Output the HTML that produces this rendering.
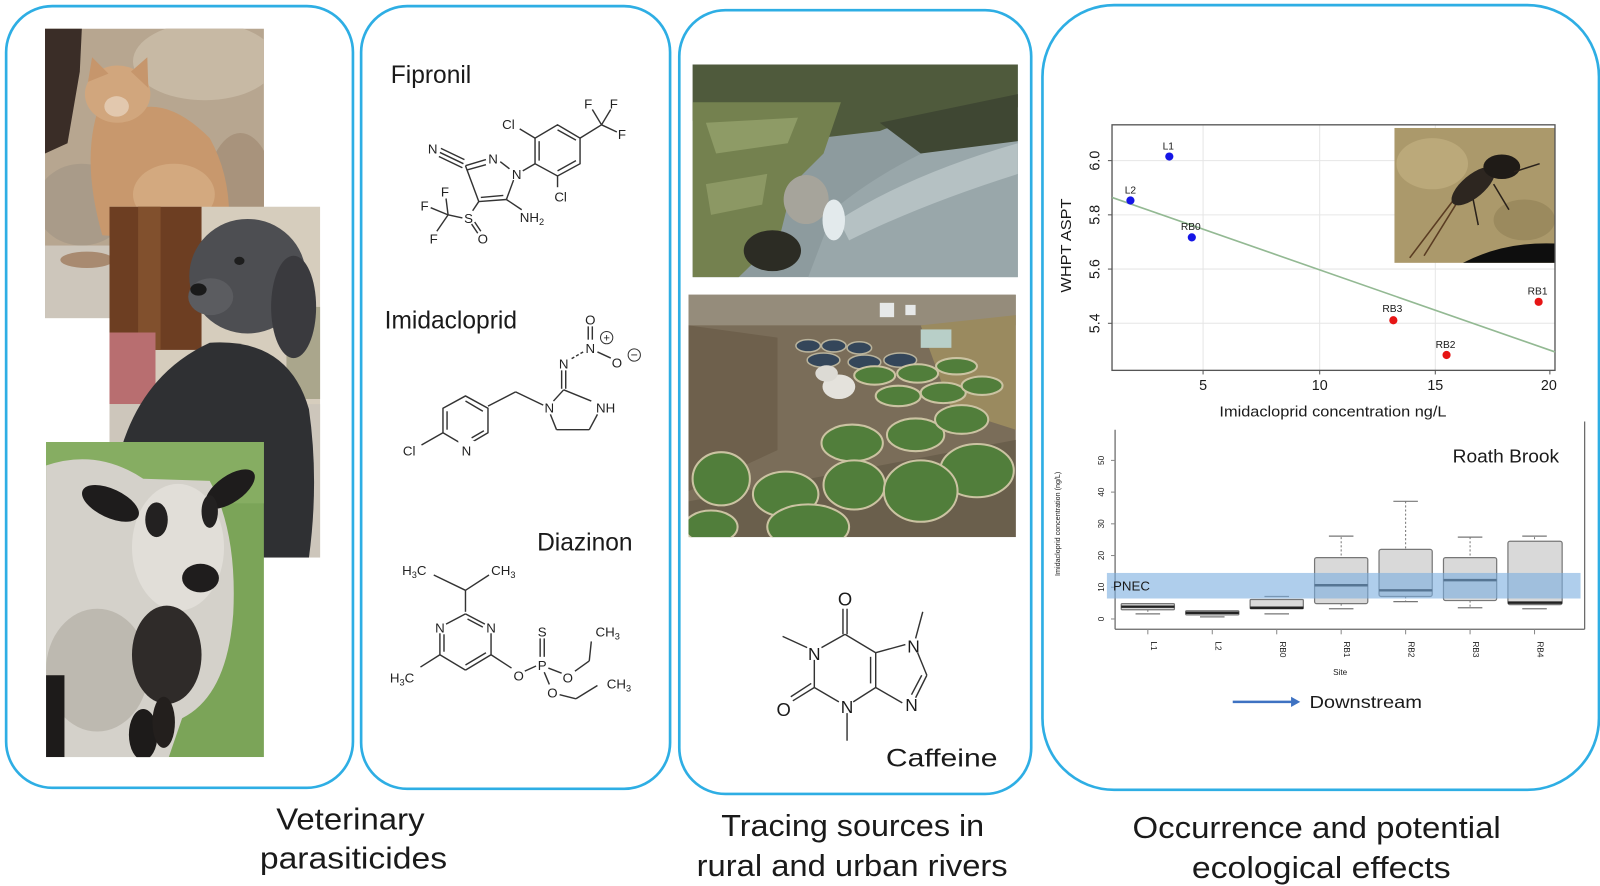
<!DOCTYPE html>
<html><head><meta charset="utf-8"><style>
html,body{margin:0;padding:0;background:#fff;}
svg{display:block}
text{font-family:"Liberation Sans",Arial,sans-serif;fill:#1a1a1a;}
.ch{font-size:13px;fill:#222;text-anchor:middle;}
.bd{stroke:#333;stroke-width:1.4;fill:none;}
</style></head><body>
<svg width="1600" height="886" viewBox="0 0 1564 866" preserveAspectRatio="none" xmlns="http://www.w3.org/2000/svg">
<defs>
<clipPath id="cCat"><rect x="44" y="28" width="214" height="283"/></clipPath>
<clipPath id="cDog"><rect x="107" y="202" width="206" height="343"/></clipPath>
<clipPath id="cSheep"><rect x="45" y="432" width="213" height="308"/></clipPath>
<clipPath id="cRiv"><rect x="677" y="63" width="318" height="208"/></clipPath>
<clipPath id="cAer"><rect x="673" y="288" width="320" height="237"/></clipPath>
<clipPath id="cIns"><rect x="1363" y="125" width="157" height="132"/></clipPath>
</defs>
<rect width="1564" height="866" fill="#fff"/>

<!-- Panels -->
<g fill="none" stroke="#2eaee4" stroke-width="2.6">
<rect x="6" y="6" width="339" height="764" rx="45"/>
<rect x="353" y="6" width="302" height="765" rx="45"/>
<rect x="664" y="10" width="344" height="766" rx="45"/>
<rect x="1019" y="5" width="544" height="767" rx="70"/>
</g>

<!-- CAT -->
<g clip-path="url(#cCat)">
<rect x="44" y="28" width="214" height="283" fill="#b7a690"/>
<ellipse cx="200" cy="60" rx="70" ry="38" fill="#c7b9a4"/>
<ellipse cx="235" cy="200" rx="35" ry="70" fill="#a8937c"/>
<path d="M44 28 L80 28 L78 70 L66 140 L44 150 Z" fill="#3a2d27"/>
<ellipse cx="80" cy="200" rx="45" ry="40" fill="#a99b89"/>
<rect x="44" y="240" width="70" height="75" fill="#cdc6bb"/>
<ellipse cx="85" cy="254" rx="26" ry="8" fill="#a88a70"/>
<path d="M95 110 Q80 160 100 230 L222 238 Q230 180 205 135 Q170 100 140 105 Z" fill="#c8986d"/>
<ellipse cx="115" cy="92" rx="32" ry="28" fill="#d1a67d"/>
<polygon points="86,80 90,56 106,72" fill="#c6966c"/>
<polygon points="128,70 144,56 145,86" fill="#c6966c"/>
<ellipse cx="114" cy="104" rx="12" ry="10" fill="#e2c8ae"/>
<ellipse cx="170" cy="190" rx="40" ry="30" fill="#d3a97f"/>
</g>

<!-- DOG -->
<g clip-path="url(#cDog)">
<rect x="107" y="202" width="206" height="343" fill="#d6cdbd"/>
<rect x="107" y="202" width="90" height="140" fill="#6d3e22"/>
<rect x="135" y="202" width="22" height="140" fill="#81502d"/>
<rect x="280" y="300" width="33" height="90" fill="#aaa68c"/>
<rect x="107" y="325" width="45" height="70" fill="#b86e70"/>
<rect x="107" y="395" width="206" height="150" fill="#cdc6bb"/>
<path d="M118 440 Q140 365 205 335 Q282 330 302 400 Q312 470 302 545 L118 545 Z" fill="#2f3033"/>
<ellipse cx="242" cy="270" rx="57" ry="56" fill="#4d4e52"/>
<ellipse cx="287" cy="300" rx="22" ry="50" fill="#3a3a3e"/>
<ellipse cx="206" cy="290" rx="22" ry="18" fill="#5b5c60"/>
<ellipse cx="194" cy="283" rx="8" ry="6" fill="#1a1a1a"/>
<ellipse cx="234" cy="255" rx="5" ry="4" fill="#1e1e1e"/>
</g>

<!-- SHEEP -->
<g clip-path="url(#cSheep)">
<rect x="45" y="432" width="213" height="308" fill="#7ba458"/>
<rect x="45" y="432" width="213" height="60" fill="#86ad62"/>
<path d="M45 455 Q95 438 140 468 L205 470 Q232 520 228 600 Q222 680 178 702 L165 740 L45 740 Z" fill="#d4d1ca"/>
<ellipse cx="95" cy="655" rx="50" ry="60" fill="#bdb9b0"/>
<ellipse cx="174" cy="535" rx="45" ry="62" fill="#e1ded8"/>
<ellipse cx="108" cy="492" rx="30" ry="14" transform="rotate(25 108 492)" fill="#1e1c1c"/>
<ellipse cx="225" cy="478" rx="28" ry="13" transform="rotate(-35 225 478)" fill="#1e1c1c"/>
<ellipse cx="153" cy="508" rx="11" ry="17" fill="#232121"/>
<ellipse cx="205" cy="500" rx="8" ry="16" fill="#232121"/>
<ellipse cx="196" cy="565" rx="18" ry="14" fill="#1f1d1d"/>
<ellipse cx="163" cy="640" rx="34" ry="48" fill="#2f2b29"/>
<rect x="45" y="660" width="18" height="80" fill="#1d1b1a"/>
<ellipse cx="140" cy="718" rx="14" ry="25" fill="#1d1b1a"/>
<ellipse cx="160" cy="706" rx="11" ry="25" fill="#231f1d"/>
</g>

<!-- Panel 2 chemistry -->
<text x="382" y="81" font-size="24">Fipronil</text>
<text x="376" y="321" font-size="24">Imidacloprid</text>
<text x="525" y="538" font-size="24">Diazinon</text>

<!-- Fipronil -->
<g class="bd">
<line x1="430" y1="149" x2="453" y2="160"/><line x1="431" y1="145" x2="454" y2="156"/><line x1="429" y1="153" x2="452" y2="164"/>
<line x1="455" y1="162" x2="475" y2="156"/><line x1="457" y1="166" x2="475" y2="161"/>
<line x1="489" y1="158" x2="498" y2="165"/>
<line x1="502" y1="176" x2="495" y2="195"/>
<line x1="495" y1="195" x2="468" y2="197"/><line x1="492" y1="191" x2="470" y2="193"/>
<line x1="468" y1="197" x2="455" y2="162"/>
<line x1="495" y1="195" x2="510" y2="205"/>
<line x1="468" y1="197" x2="462" y2="206"/>
<line x1="452" y1="213" x2="438" y2="210"/>
<line x1="438" y1="210" x2="436" y2="194"/><line x1="438" y1="210" x2="421" y2="203"/><line x1="438" y1="210" x2="427" y2="226"/>
<line x1="461" y1="219" x2="467" y2="228"/><line x1="464" y1="217" x2="470" y2="226"/>
<line x1="511" y1="167" x2="523" y2="160"/>
<polygon points="545,122 567,135 567,160 545,172 523,160 523,135"/>
<line x1="527" y1="138" x2="527" y2="157"/><line x1="545" y1="127" x2="563" y2="137"/><line x1="545" y1="167" x2="563" y2="157"/>
<line x1="523" y1="135" x2="508" y2="126"/>
<line x1="545" y1="172" x2="545" y2="183"/>
<line x1="567" y1="135" x2="588" y2="122"/>
<line x1="588" y1="122" x2="579" y2="107"/><line x1="588" y1="122" x2="597" y2="107"/><line x1="588" y1="122" x2="603" y2="129"/>
</g>
<text class="ch" x="423" y="150">N</text>
<text class="ch" x="482" y="160">N</text>
<text class="ch" x="505" y="175">N</text>
<text class="ch" x="497" y="126">Cl</text>
<text class="ch" x="575" y="106">F</text>
<text class="ch" x="600" y="106">F</text>
<text class="ch" x="608" y="136">F</text>
<text class="ch" x="548" y="197">Cl</text>
<text class="ch" x="435" y="192">F</text>
<text class="ch" x="415" y="206">F</text>
<text class="ch" x="424" y="238">F</text>
<text class="ch" x="458" y="218">S</text>
<text class="ch" x="472" y="238">O</text>
<text class="ch" x="520" y="217">NH<tspan font-size="9" dy="3">2</tspan></text>

<!-- Imidacloprid -->
<g class="bd">
<line x1="575" y1="319" x2="575" y2="332"/><line x1="579" y1="319" x2="579" y2="332"/>
<line x1="584" y1="344" x2="597" y2="350"/>
<line x1="570" y1="344" x2="558" y2="351" stroke-dasharray="3,2"/>
<line x1="549" y1="362" x2="549" y2="380"/><line x1="553" y1="362" x2="553" y2="380"/>
<line x1="551" y1="381" x2="541" y2="392"/>
<line x1="551" y1="381" x2="578" y2="392"/>
<line x1="538" y1="405" x2="544" y2="420"/>
<line x1="544" y1="420" x2="576" y2="420"/>
<line x1="576" y1="420" x2="584" y2="405"/>
<line x1="531" y1="396" x2="504" y2="383"/>
<line x1="504" y1="383" x2="477" y2="397"/>
<polygon points="455,387 477,399 477,423 460,433 450,433 433,423 433,399" stroke-linejoin="round"/>
<line x1="437" y1="402" x2="437" y2="420"/><line x1="455" y1="392" x2="472" y2="402"/><line x1="461" y1="428" x2="473" y2="421"/>
<line x1="433" y1="423" x2="412" y2="435"/>
</g>
<rect x="448" y="431" width="16" height="14" fill="#fff"/>
<text class="ch" x="577" y="317">O</text>
<text class="ch" x="577" y="345">N</text>
<circle cx="593" cy="330" r="6" fill="none" stroke="#333" stroke-width="1"/><text x="593" y="334" font-size="11" text-anchor="middle">+</text>
<text class="ch" x="603" y="359">O</text>
<circle cx="620" cy="347" r="6" fill="none" stroke="#333" stroke-width="1"/><text x="620" y="351" font-size="12" text-anchor="middle">−</text>
<text class="ch" x="551" y="360">N</text>
<text class="ch" x="537" y="403">N</text>
<text class="ch" x="592" y="403">NH</text>
<text class="ch" x="400" y="445">Cl</text>
<text class="ch" x="456" y="445">N</text>

<!-- Diazinon -->
<g class="bd">
<line x1="424" y1="562" x2="455" y2="577"/><line x1="455" y1="577" x2="478" y2="562"/>
<line x1="455" y1="577" x2="455" y2="598"/>
<line x1="455" y1="600" x2="474" y2="610"/><line x1="457" y1="605" x2="472" y2="613"/>
<line x1="436" y1="610" x2="455" y2="600"/>
<line x1="480" y1="619" x2="480" y2="640"/>
<line x1="480" y1="640" x2="455" y2="655"/><line x1="475" y1="638" x2="455" y2="650"/>
<line x1="455" y1="655" x2="430" y2="640"/>
<line x1="430" y1="640" x2="430" y2="619"/><line x1="434" y1="637" x2="434" y2="620"/>
<line x1="430" y1="640" x2="411" y2="652"/>
<line x1="480" y1="640" x2="500" y2="653"/>
<line x1="513" y1="656" x2="524" y2="651"/>
<line x1="528" y1="642" x2="528" y2="624"/><line x1="532" y1="642" x2="532" y2="624"/>
<line x1="536" y1="653" x2="549" y2="658"/>
<line x1="562" y1="656" x2="576" y2="646"/><line x1="576" y1="646" x2="578" y2="627"/>
<line x1="532" y1="657" x2="537" y2="669"/>
<line x1="547" y1="679" x2="563" y2="683"/><line x1="563" y1="683" x2="584" y2="670"/>
</g>
<text class="ch" x="405" y="562">H<tspan font-size="9" dy="3">3</tspan><tspan dy="-3">C</tspan></text>
<text class="ch" x="492" y="562">CH<tspan font-size="9" dy="3">3</tspan></text>
<text class="ch" x="430" y="618">N</text>
<text class="ch" x="480" y="618">N</text>
<text class="ch" x="393" y="667">H<tspan font-size="9" dy="3">3</tspan><tspan dy="-3">C</tspan></text>
<text class="ch" x="507" y="665">O</text>
<text class="ch" x="530" y="655">P</text>
<text class="ch" x="530" y="622">S</text>
<text class="ch" x="594" y="622">CH<tspan font-size="9" dy="3">3</tspan></text>
<text class="ch" x="555" y="667">O</text>
<text class="ch" x="540" y="682">O</text>
<text class="ch" x="605" y="673">CH<tspan font-size="9" dy="3">3</tspan></text>

<!-- RIVER PHOTO -->
<g clip-path="url(#cRiv)">
<rect x="677" y="63" width="318" height="208" fill="#8d9b9e"/>
<path d="M790 271 L815 205 Q880 150 995 112 L995 271 Z" fill="#99a7aa"/>
<path d="M820 215 Q890 170 995 140 L995 170 Q900 200 830 235 Z" fill="#b5c1c3"/>
<path d="M677 63 L995 63 L995 105 Q900 112 860 128 L800 135 L677 118 Z" fill="#4f5a3c"/>
<path d="M677 100 L822 100 L805 150 L775 180 L762 232 L722 271 L677 271 Z" fill="#74814f"/>
<path d="M690 120 L780 115 L770 140 L700 150 Z" fill="#8e9b66"/>
<path d="M690 180 L750 170 L745 200 L695 210 Z" fill="#8c9864"/>
<ellipse cx="755" cy="245" rx="28" ry="20" fill="#2c2c24"/>
<ellipse cx="788" cy="195" rx="22" ry="24" fill="#a6a49b"/>
<ellipse cx="815" cy="215" rx="11" ry="20" fill="#e3eaec"/>
<path d="M860 120 L995 92 L995 138 L900 150 Z" fill="#3f4733"/>
</g>

<!-- AERIAL PHOTO -->
<g clip-path="url(#cAer)">
<rect x="673" y="288" width="320" height="237" fill="#7a6d59"/>
<rect x="673" y="288" width="320" height="30" fill="#958c7b"/>
<polygon points="900,318 993,308 993,420 930,400" fill="#9a8a5f"/>
<path d="M673 318 L760 330 L760 440 L673 480 Z" fill="#6e604c"/>
<path d="M673 490 L780 470 L993 430 L993 525 L673 525 Z" fill="#6a5f4c"/>
<rect x="860" y="296" width="14" height="14" fill="#e6e8e8"/><rect x="885" y="298" width="10" height="10" fill="#e6e8e8"/>
<g fill="#34465a" stroke="#b9b39c" stroke-width="1.5">
<ellipse cx="790" cy="338" rx="12" ry="6"/><ellipse cx="815" cy="338" rx="12" ry="6"/><ellipse cx="840" cy="340" rx="12" ry="6"/>
<ellipse cx="805" cy="352" rx="16" ry="7"/><ellipse cx="845" cy="354" rx="16" ry="7"/><ellipse cx="880" cy="352" rx="16" ry="7"/>
</g>
<ellipse cx="820" cy="378" rx="16" ry="12" fill="#e4e2dc"/><ellipse cx="808" cy="365" rx="11" ry="8" fill="#dcdad4"/>
<rect x="900" y="322" width="30" height="18" fill="#b8cfc8"/>
<g fill="#517e3b" stroke="#cbc3a2" stroke-width="2">
<ellipse cx="855" cy="367" rx="20" ry="9"/><ellipse cx="897" cy="365" rx="20" ry="9"/><ellipse cx="935" cy="358" rx="20" ry="8"/>
<ellipse cx="878" cy="387" rx="22" ry="10"/><ellipse cx="922" cy="384" rx="22" ry="10"/><ellipse cx="960" cy="377" rx="20" ry="9"/>
<ellipse cx="833" cy="433" rx="30" ry="18"/><ellipse cx="895" cy="425" rx="28" ry="16"/><ellipse cx="955" cy="460" rx="36" ry="26"/>
<ellipse cx="705" cy="468" rx="28" ry="26"/><ellipse cx="768" cy="483" rx="32" ry="22"/><ellipse cx="835" cy="474" rx="30" ry="24"/>
<ellipse cx="900" cy="480" rx="36" ry="30"/><ellipse cx="790" cy="515" rx="40" ry="22"/><ellipse cx="695" cy="515" rx="26" ry="16"/>
<ellipse cx="940" cy="410" rx="26" ry="14"/>
</g>
</g>

<!-- CAFFEINE -->
<g class="bd">
<line x1="824" y1="595" x2="824" y2="620"/><line x1="828" y1="595" x2="828" y2="620"/>
<line x1="826" y1="620" x2="803" y2="633"/>
<line x1="789" y1="633" x2="765" y2="622"/>
<line x1="796" y1="645" x2="796" y2="672"/>
<line x1="796" y1="672" x2="820" y2="686"/>
<line x1="796" y1="672" x2="775" y2="685"/><line x1="793" y1="668" x2="773" y2="681"/>
<line x1="828" y1="697" x2="828" y2="724"/>
<line x1="834" y1="686" x2="856" y2="672"/>
<line x1="856" y1="672" x2="856" y2="638"/><line x1="851" y1="668" x2="851" y2="642"/>
<line x1="856" y1="638" x2="826" y2="620"/>
<line x1="856" y1="638" x2="885" y2="630"/>
<line x1="897" y1="638" x2="906" y2="660"/>
<line x1="906" y1="660" x2="895" y2="682"/><line x1="901" y1="660" x2="891" y2="679"/>
<line x1="882" y1="687" x2="856" y2="672"/>
<line x1="895" y1="624" x2="902" y2="598"/>
</g>
<text x="826" y="592" font-size="18" text-anchor="middle">O</text>
<text x="796" y="645" font-size="17" text-anchor="middle">N</text>
<text x="893" y="638" font-size="17" text-anchor="middle">N</text>
<text x="891" y="695" font-size="17" text-anchor="middle">N</text>
<text x="766" y="700" font-size="18" text-anchor="middle">O</text>
<text x="828" y="697" font-size="17" text-anchor="middle">N</text>
<text x="866" y="749" font-size="24" textLength="109" lengthAdjust="spacingAndGlyphs">Caffeine</text>

<!-- SCATTER PLOT -->
<g stroke="#e6e6e6" stroke-width="1">
<line x1="1087" y1="157" x2="1520" y2="157"/><line x1="1087" y1="210" x2="1520" y2="210"/>
<line x1="1087" y1="263" x2="1520" y2="263"/><line x1="1087" y1="316" x2="1520" y2="316"/>
<line x1="1176" y1="122" x2="1176" y2="362"/><line x1="1290" y1="122" x2="1290" y2="362"/><line x1="1403" y1="122" x2="1403" y2="362"/>
</g>
<g clip-path="url(#cIns)">
<rect x="1363" y="125" width="157" height="132" fill="#ab996b"/>
<ellipse cx="1400" cy="160" rx="35" ry="25" fill="#bba97a"/>
<ellipse cx="1490" cy="215" rx="30" ry="20" fill="#9b8a5e"/>
<path d="M1430 257 Q1470 236 1520 238 L1520 257 Z" fill="#0e0e0e"/>
<g stroke="#5a3c22" stroke-width="1.5"><line x1="1425" y1="190" x2="1378" y2="252"/><line x1="1428" y1="192" x2="1392" y2="250"/></g>
<ellipse cx="1440" cy="182" rx="26" ry="11" transform="rotate(-40 1440 182)" fill="#2d2620"/>
<ellipse cx="1468" cy="163" rx="18" ry="12" fill="#1f1b17"/>
<g stroke="#2a221b" stroke-width="1.5"><line x1="1460" y1="180" x2="1475" y2="205"/><line x1="1480" y1="168" x2="1505" y2="160"/><line x1="1440" y1="195" x2="1445" y2="220"/></g>
</g>
<rect x="1087" y="122" width="433" height="240" fill="none" stroke="#555" stroke-width="1.3"/>
<line x1="1087" y1="193" x2="1520" y2="344" stroke="#93b993" stroke-width="1.6"/>
<g stroke="#555" stroke-width="1">
<line x1="1083" y1="157" x2="1087" y2="157"/><line x1="1083" y1="210" x2="1087" y2="210"/><line x1="1083" y1="263" x2="1087" y2="263"/><line x1="1083" y1="316" x2="1087" y2="316"/>
<line x1="1176" y1="362" x2="1176" y2="366"/><line x1="1290" y1="362" x2="1290" y2="366"/><line x1="1403" y1="362" x2="1403" y2="366"/><line x1="1515" y1="362" x2="1515" y2="366"/>
</g>
<g font-size="14" fill="#333" text-anchor="middle">
<text x="1075" y="157" transform="rotate(-90 1075 157)">6.0</text>
<text x="1075" y="210" transform="rotate(-90 1075 210)">5.8</text>
<text x="1075" y="263" transform="rotate(-90 1075 263)">5.6</text>
<text x="1075" y="316" transform="rotate(-90 1075 316)">5.4</text>
<text x="1176" y="381">5</text><text x="1290" y="381">10</text><text x="1403" y="381">15</text><text x="1514" y="381">20</text>
<text x="1047" y="240" transform="rotate(-90 1047 240)" font-size="14" textLength="92" lengthAdjust="spacingAndGlyphs">WHPT ASPT</text>
<text x="1303" y="407" font-size="14" textLength="222" lengthAdjust="spacingAndGlyphs">Imidacloprid concentration ng/L</text>
</g>
<g>
<circle cx="1143" cy="153" r="4" fill="#1515e6"/><circle cx="1105" cy="196" r="4" fill="#1515e6"/><circle cx="1165" cy="232" r="4" fill="#1515e6"/>
<circle cx="1362" cy="313" r="4" fill="#e61515"/><circle cx="1414" cy="347" r="4" fill="#e61515"/><circle cx="1504" cy="295" r="4" fill="#e61515"/>
</g>
<g font-size="10" fill="#333" text-anchor="middle">
<text x="1142" y="146">L1</text><text x="1105" y="189">L2</text><text x="1164" y="225">RB0</text>
<text x="1361" y="305">RB3</text><text x="1413" y="340">RB2</text><text x="1503" y="288">RB1</text>
</g>

<!-- BOX PLOT -->
<g stroke="#666" stroke-width="1.2" fill="none">
<line x1="1090" y1="420" x2="1090" y2="615"/>
<line x1="1090" y1="615" x2="1549" y2="615"/>
<line x1="1549" y1="412" x2="1549" y2="615"/>
</g>
<g stroke="#888" stroke-width="1">
<line x1="1086" y1="605" x2="1090" y2="605"/><line x1="1086" y1="574" x2="1090" y2="574"/><line x1="1086" y1="543" x2="1090" y2="543"/>
<line x1="1086" y1="512" x2="1090" y2="512"/><line x1="1086" y1="481" x2="1090" y2="481"/><line x1="1086" y1="450" x2="1090" y2="450"/>
<line x1="1122" y1="615" x2="1122" y2="620"/><line x1="1185" y1="615" x2="1185" y2="620"/><line x1="1248" y1="615" x2="1248" y2="620"/>
<line x1="1311" y1="615" x2="1311" y2="620"/><line x1="1374" y1="615" x2="1374" y2="620"/><line x1="1437" y1="615" x2="1437" y2="620"/><line x1="1500" y1="615" x2="1500" y2="620"/>
</g>
<g font-size="8" fill="#888" text-anchor="middle">
<text x="1079" y="605" transform="rotate(-90 1079 605)">0</text>
<text x="1079" y="574" transform="rotate(-90 1079 574)">10</text>
<text x="1079" y="543" transform="rotate(-90 1079 543)">20</text>
<text x="1079" y="512" transform="rotate(-90 1079 512)">30</text>
<text x="1079" y="481" transform="rotate(-90 1079 481)">40</text>
<text x="1079" y="450" transform="rotate(-90 1079 450)">50</text>
<text x="1036" y="512" font-size="7" transform="rotate(-90 1036 512)">Imidacloprid concentration (ng/L)</text>
<text x="1310" y="660">Site</text>
</g>
<g font-size="8" fill="#888">
<text x="1125" y="627" transform="rotate(90 1125 627)">L1</text>
<text x="1188" y="627" transform="rotate(90 1188 627)">L2</text>
<text x="1251" y="627" transform="rotate(90 1251 627)">RB0</text>
<text x="1314" y="627" transform="rotate(90 1314 627)">RB1</text>
<text x="1377" y="627" transform="rotate(90 1377 627)">RB2</text>
<text x="1440" y="627" transform="rotate(90 1440 627)">RB3</text>
<text x="1503" y="627" transform="rotate(90 1503 627)">RB4</text>
</g>
<!-- whiskers -->
<g stroke="#777" stroke-width="1" stroke-dasharray="2,2">
<line x1="1122" y1="596" x2="1122" y2="600"/>
<line x1="1248" y1="586" x2="1248" y2="593"/>
<line x1="1311" y1="525" x2="1311" y2="545"/><line x1="1311" y1="590" x2="1311" y2="594"/>
<line x1="1374" y1="490" x2="1374" y2="537"/><line x1="1374" y1="583" x2="1374" y2="588"/>
<line x1="1437" y1="525" x2="1437" y2="545"/><line x1="1437" y1="587" x2="1437" y2="594"/>
<line x1="1500" y1="525" x2="1500" y2="528"/>
</g>
<g stroke="#777" stroke-width="1.2">
<line x1="1110" y1="600" x2="1134" y2="600"/><line x1="1173" y1="603" x2="1197" y2="603"/>
<line x1="1236" y1="583" x2="1260" y2="583"/><line x1="1236" y1="600" x2="1260" y2="600"/>
<line x1="1299" y1="524" x2="1323" y2="524"/><line x1="1299" y1="595" x2="1323" y2="595"/>
<line x1="1362" y1="490" x2="1386" y2="490"/><line x1="1362" y1="588" x2="1386" y2="588"/>
<line x1="1425" y1="525" x2="1449" y2="525"/><line x1="1425" y1="594" x2="1449" y2="594"/>
<line x1="1488" y1="524" x2="1512" y2="524"/><line x1="1488" y1="595" x2="1512" y2="595"/>
</g>
<g fill="#d9d9d9" stroke="#777" stroke-width="1.2">
<rect x="1096" y="590" width="52" height="6" rx="1"/>
<rect x="1159" y="597" width="52" height="4" rx="1"/>
<rect x="1222" y="586" width="52" height="9" rx="1"/>
<rect x="1285" y="545" width="52" height="45" rx="2"/>
<rect x="1348" y="537" width="52" height="46" rx="2"/>
<rect x="1411" y="545" width="52" height="42" rx="2"/>
<rect x="1474" y="529" width="53" height="62" rx="2"/>
</g>
<g stroke="#222" stroke-width="2.4">
<line x1="1096" y1="593" x2="1148" y2="593"/><line x1="1159" y1="599" x2="1211" y2="599"/><line x1="1222" y1="594" x2="1274" y2="594"/>
<line x1="1285" y1="572" x2="1337" y2="572"/><line x1="1348" y1="577" x2="1400" y2="577"/><line x1="1411" y1="567" x2="1463" y2="567"/><line x1="1474" y1="589" x2="1527" y2="589"/>
</g>
<rect x="1082" y="560" width="463" height="25" fill="#7aaee0" fill-opacity="0.6"/>
<text x="1088" y="577" font-size="13" fill="#1e2e4a">PNEC</text>
<text x="1420" y="452" font-size="18" fill="#222" textLength="104" lengthAdjust="spacingAndGlyphs">Roath Brook</text>
<line x1="1205" y1="686" x2="1263" y2="686" stroke="#3e72c2" stroke-width="2.5"/>
<polygon points="1262,681 1271,686 1262,691" fill="#3e72c2"/>
<text x="1280" y="692" font-size="17" fill="#222" textLength="110" lengthAdjust="spacingAndGlyphs">Downstream</text>

<!-- Bottom labels -->
<g font-size="30" fill="#1a1a1a">
<text x="270" y="811" textLength="145" lengthAdjust="spacingAndGlyphs">Veterinary</text>
<text x="254" y="849" textLength="183" lengthAdjust="spacingAndGlyphs">parasiticides</text>
<text x="705" y="817" textLength="257" lengthAdjust="spacingAndGlyphs">Tracing sources in</text>
<text x="681" y="856" textLength="304" lengthAdjust="spacingAndGlyphs">rural and urban rivers</text>
<text x="1107" y="819" textLength="360" lengthAdjust="spacingAndGlyphs">Occurrence and potential</text>
<text x="1165" y="858" textLength="253" lengthAdjust="spacingAndGlyphs">ecological effects</text>
</g>
</svg>
</body></html>
